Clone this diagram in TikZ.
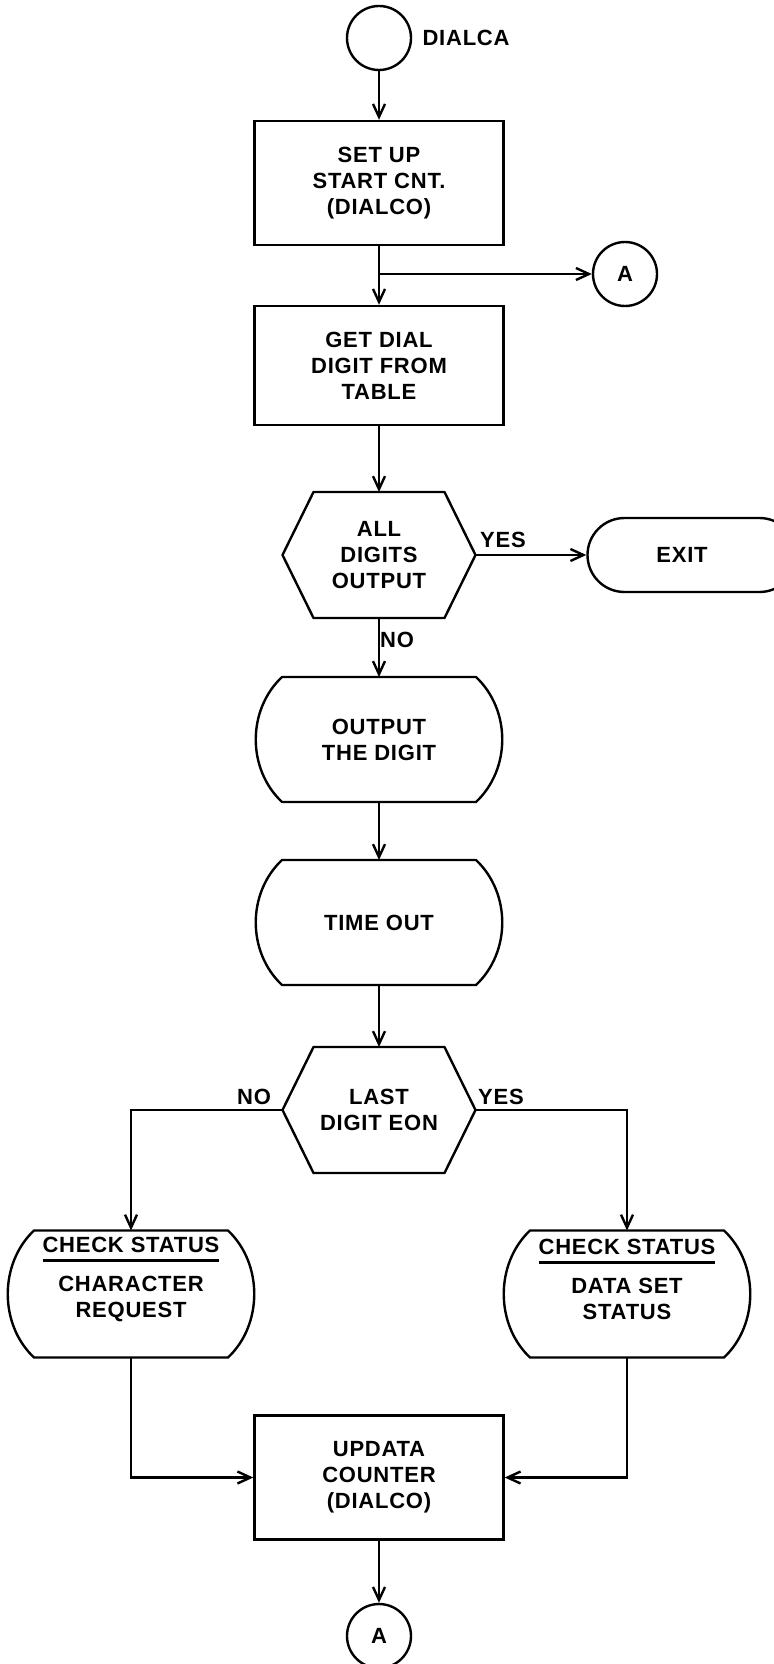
\documentclass[tikz,border=0pt]{standalone}
\usepackage{fontspec}
\setmainfont{Liberation Sans}[LetterSpace=3.5]
\usetikzlibrary{arrows.meta,shapes.misc}
\newcommand\ulx[1]{\setbox0\hbox{#1}\rlap{\raisebox{-4.5pt}{\rule{\wd0}{1.1pt}}}\box0}
\newcommand\hexout[1]{\draw[shp] ([xshift=15.5pt]#1.north west) -- ([xshift=-15.5pt]#1.north east) -- (#1.east) -- ([xshift=-15.5pt]#1.south east) -- ([xshift=15.5pt]#1.south west) -- (#1.west) -- cycle;}
\newcommand\bulgeout[1]{\draw[shp] ([xshift=13.25pt]#1.north west) -- ([xshift=-13.25pt]#1.north east) .. controls +(35,33) and +(35,-33) .. ([xshift=-13.25pt]#1.south east) -- ([xshift=13.25pt]#1.south west) .. controls +(-35,-33) and +(-35,33) .. ([xshift=13.25pt]#1.north west) -- cycle;}
\begin{document}
\begin{tikzpicture}[x=0.5pt,y=-0.5pt,
  every node/.style={font=\bfseries\fontsize{11}{13}\selectfont, align=center},
  proc/.style={draw, line width=1.2pt, minimum width=124.5pt, minimum height=62pt, inner sep=0},
  conn/.style={draw, circle, line width=1.2pt, minimum size=32pt, inner sep=0},
  hexnode/.style={minimum width=96.5pt, minimum height=63pt, inner sep=0, outer sep=0},
  bulgenode/.style={minimum width=123.5pt, minimum height=62.5pt, inner sep=0, outer sep=0},
  term/.style={draw, rounded rectangle, line width=1.2pt, minimum width=104.5pt, minimum height=37pt, inner sep=0},
  arr/.style={-{Straight Barb[length=6.5pt,width=6pt]}, line width=1.2pt},
  shp/.style={line width=1.2pt, line join=round},
  lbl/.style={inner sep=0}]
\useasboundingbox (0,0) rectangle (773,1664);

% nodes
\node[conn] (c0) at (379,38) {};
\node[lbl, anchor=west] (ldialca) at ([xshift=5pt]c0.east) {DIALCA};
\node[proc] (b1) at (379,183) {SET UP\\START CNT.\\(DIALCO)};
\node[conn] (cA1) at (625,274) {A};
\node[proc, minimum height=59.5pt] (b2) at (379,365.5) {GET DIAL\\DIGIT FROM\\TABLE};
\node[hexnode] (d1) at (379,555) {ALL\\DIGITS\\OUTPUT};
\hexout{d1}
\node[term] (ex) at (692,555) {\hspace*{-10pt}EXIT};
\node[bulgenode] (o1) at (379,739.5) {OUTPUT\\THE DIGIT};
\bulgeout{o1}
\node[bulgenode] (t1) at (379,922.5) {TIME OUT};
\bulgeout{t1}
\node[hexnode] (d2) at (379,1110) {LAST\\DIGIT EON};
\hexout{d2}
\node[bulgenode, minimum height=63.5pt] (cs1) at (131,1294) {};
\bulgeout{cs1}
\node[lbl] (cs1t) at ([yshift=7.25pt]cs1.center) {\ulx{CHECK STATUS}\\[6.5pt]CHARACTER\\REQUEST};
\node[bulgenode, minimum height=63.5pt] (cs2) at (627,1294) {};
\bulgeout{cs2}
\node[lbl] (cs2t) at ([yshift=7.25pt]cs2.center) {\ulx{CHECK STATUS}\\[6.5pt]DATA SET\\STATUS};
\node[proc] (b3) at (379,1477.5) {UPDATA\\COUNTER\\(DIALCO)};
\node[conn] (cA2) at (379,1636) {A};

% labels
\node[lbl] (yes1) at (503,540) {YES};
\node[lbl] (no1) at (397,640) {NO};
\node[lbl] (no2) at (254,1097) {NO};
\node[lbl] (yes2) at (501,1097) {YES};

% connectors
\coordinate (j) at (b1.south |- cA1.west);
\draw[arr] (c0) -- (b1);
\draw[arr] (b1) -- (b2);
\draw[arr] (j) -- (cA1);
\draw[arr] (b2) -- (d1.north);
\draw[arr] (d1.east) -- (ex.west);
\draw[arr] (d1.south) -- (o1.north);
\draw[arr] (o1.south) -- (t1.north);
\draw[arr] (t1.south) -- (d2.north);
\draw[arr] (d2.west) -| (cs1.north);
\draw[arr] (d2.east) -| (cs2.north);
\draw[arr] (cs1.south) |- (b3.west);
\draw[arr] (cs2.south) |- (b3.east);
\draw[arr] (b3) -- (cA2);
\end{tikzpicture}
\end{document}
